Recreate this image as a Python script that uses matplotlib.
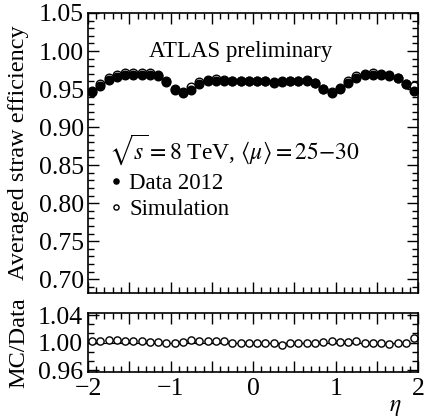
import matplotlib
matplotlib.use('Agg')
import matplotlib.pyplot as plt
from matplotlib.ticker import MultipleLocator, AutoMinorLocator, FuncFormatter
import numpy as np

# bin centres in eta
eta = [-1.95, -1.85, -1.75, -1.65, -1.55, -1.45, -1.35, -1.25, -1.15, -1.05,
       -0.95, -0.85, -0.75, -0.65, -0.55, -0.45, -0.35, -0.25, -0.15, -0.05,
       0.05, 0.15, 0.25, 0.35, 0.45, 0.55, 0.65, 0.75, 0.85, 0.95,
       1.05, 1.15, 1.25, 1.35, 1.45, 1.55, 1.65, 1.75, 1.85, 1.95]

data_eff = [0.946, 0.954, 0.962, 0.966, 0.968, 0.969, 0.969, 0.969, 0.967, 0.959,
            0.949, 0.945, 0.949, 0.957, 0.960, 0.961, 0.960, 0.960, 0.960, 0.960,
            0.960, 0.960, 0.959, 0.960, 0.961, 0.961, 0.961, 0.958, 0.950, 0.945,
            0.950, 0.958, 0.965, 0.968, 0.969, 0.968, 0.967, 0.965, 0.957, 0.947]

sim_eff = [0.948, 0.956, 0.965, 0.969, 0.971, 0.971, 0.971, 0.971, 0.969, 0.960,
           0.950, 0.946, 0.953, 0.959, 0.962, 0.963, 0.962, 0.961, 0.961, 0.961,
           0.960, 0.961, 0.958, 0.959, 0.961, 0.961, 0.962, 0.958, 0.950, 0.946,
           0.952, 0.960, 0.967, 0.970, 0.971, 0.970, 0.968, 0.965, 0.957, 0.954]

ratio = [1.002, 1.002, 1.003, 1.003, 1.002, 1.002, 1.002, 1.001, 1.001, 1.000,
         1.000, 1.001, 1.004, 1.002, 1.002, 1.002, 1.002, 1.000, 1.000, 1.000,
         0.999, 1.000, 0.999, 0.997, 0.999, 1.000, 0.999, 0.999, 1.001, 1.002,
         1.001, 1.001, 1.002, 1.000, 1.000, 0.999, 0.998, 0.999, 1.000, 1.007]

plt.rcParams['font.family'] = ['Liberation Serif', 'DejaVu Serif']
plt.rcParams['mathtext.fontset'] = 'stix'

fig = plt.figure(figsize=(4.25, 4.19), dpi=100)
ax = fig.add_axes([0.207, 0.301, 0.777, 0.668])
ax2 = fig.add_axes([0.207, 0.112, 0.777, 0.141])

ax.plot(eta, sim_eff, 'o', ms=6.2, mfc='white', mec='black', mew=1.0, ls='none',
        label='Simulation', zorder=2)
ax.plot(eta, data_eff, 'o', ms=6.2, mfc='black', mec='black', ls='none',
        label='Data 2012', zorder=3)

ax.set_xlim(-2, 2)
ax.set_ylim(0.682, 1.05)
ax.yaxis.set_major_locator(MultipleLocator(0.05))
ax.yaxis.set_minor_locator(MultipleLocator(0.01))
ax.yaxis.set_major_formatter(FuncFormatter(lambda v, p: '%.2f' % v))
for a in (ax, ax2):
    a.xaxis.set_major_locator(MultipleLocator(0.5))
    a.xaxis.set_minor_locator(MultipleLocator(0.1))
    a.tick_params(which='both', direction='in', top=True, right=True,
                  labelsize=18.5, width=1)
    a.tick_params(which='major', length=8)
    a.tick_params(which='minor', length=4)
    for s in a.spines.values():
        s.set_linewidth(1.2)
ax.tick_params(axis='x', labelbottom=False)
ax.tick_params(axis='y', pad=3)

ax.set_ylabel('Averaged straw efficiency', fontsize=17.5)
ax.yaxis.set_label_coords(-0.178, 0.5)

ax.text(-0.15, 1.0, 'ATLAS preliminary', fontsize=16.5, ha='center', va='center')
ax.text(-1.74, 0.871, r'$\sqrt{s} = 8$ TeV, $\langle\mu\rangle = 25{-}30$',
        fontsize=17, ha='left', va='center')

handles, labels = ax.get_legend_handles_labels()
ax.legend(handles[::-1], labels[::-1], frameon=False, loc='upper left',
          bbox_to_anchor=(0.035, 0.46), borderaxespad=0, fontsize=16.5,
          markerscale=0.6, handlelength=0.6, handletextpad=0.3,
          labelspacing=0.22, numpoints=1)

ax2.axhline(1.0, color='black', lw=0.8, zorder=1)
ax2.plot(eta, ratio, 'o', ms=5.2, mfc='white', mec='black', mew=1.0, ls='none',
         zorder=2)
ax2.set_xlim(-2, 2)
ax2.set_ylim(0.957, 1.043)
ax2.yaxis.set_major_locator(MultipleLocator(0.04))
ax2.yaxis.set_minor_locator(AutoMinorLocator(3))
ax2.yaxis.set_major_formatter(FuncFormatter(lambda v, p: '%.2f' % v))


def int_only(v, p):
    if abs(v - round(v)) < 1e-6:
        return '%d' % round(v) if v >= 0 else '\u2212%d' % round(-v)
    return ''


ax2.xaxis.set_major_formatter(FuncFormatter(int_only))
ax2.tick_params(axis='x', pad=4)
ax2.set_ylabel('MC/Data', fontsize=17.5)
ax2.yaxis.set_label_coords(-0.178, 0.5)
ax2.set_xlabel(r'$\eta$', fontsize=17)
ax2.xaxis.set_label_coords(0.93, -0.42)

fig.savefig('out.png', dpi=100)
